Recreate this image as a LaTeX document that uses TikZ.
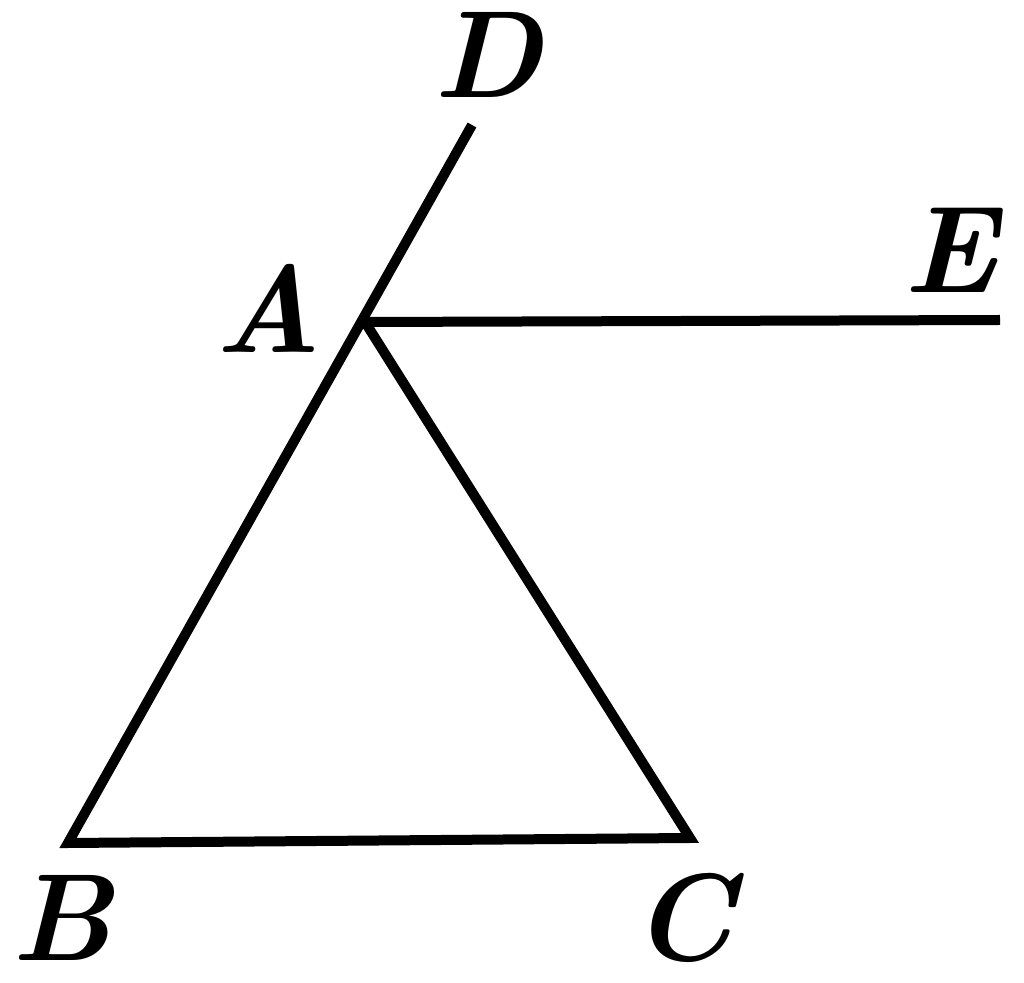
\documentclass[tikz,border=0pt]{standalone}
\begin{document}
\begin{tikzpicture}[x=0.5pt,y=-0.5pt,
  edge/.style={line width=5pt,line join=miter,line cap=butt},
  lbl/.style={inner sep=0pt,font=\fontsize{62}{70}\selectfont\bfseries\itshape}]
\useasboundingbox (0,0) rectangle (1024,983);
\coordinate (A) at (365,322);
\coordinate (B) at (68,843);
\coordinate (C) at (690,838);
\coordinate (D) at (472,125);
\coordinate (E) at (1000,320);
\draw[edge] (D) -- (B) -- (C) -- (A);
\draw[edge] (A) -- (E);
\node[lbl] (lD) at (488,55) {D};
\node[lbl] (lE) at (950,250) {E};
\node[lbl] (lA) at (268,308) {A};
\node[lbl] (lB) at (62,918) {B};
\node[lbl] (lC) at (683,918) {C};
\end{tikzpicture}
\end{document}
